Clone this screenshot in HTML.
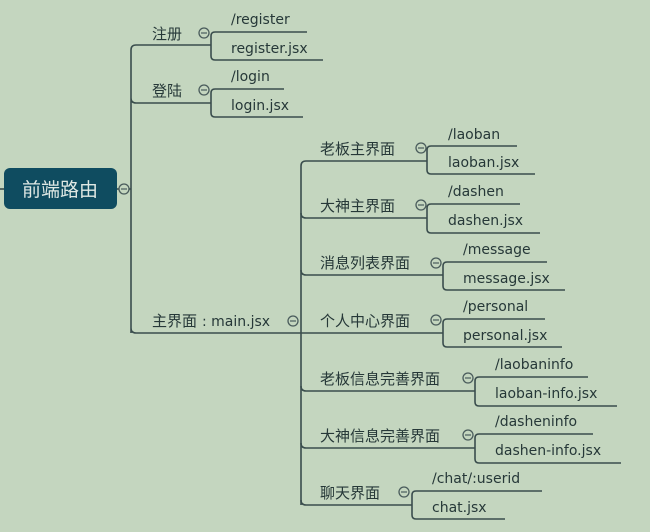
<!DOCTYPE html>
<html><head><meta charset="utf-8"><style>
html,body{margin:0;padding:0;background:#c4d6bf;}
svg{display:block}
text{font-family:"DejaVu Sans","Noto Sans CJK SC",sans-serif;fill:#263838;font-size:14px}
.z{font-family:"Noto Sans CJK SC",sans-serif;font-size:15px}
.c{fill:#c4d6bf;stroke:#4a5c5c;stroke-width:1.3}
.m{stroke:#4a5c5c;stroke-width:1.2}
.l{stroke:#3a4d4d;stroke-width:1.6;fill:none}
</style></head><body>
<svg width="650" height="532" viewBox="0 0 650 532">
<defs><g id="o"><circle class="c" r="5"/><line class="m" x1="-3" y1="0" x2="3" y2="0"/></g></defs>
<rect width="650" height="532" fill="#c4d6bf"/>
<line class="l" x1="0" y1="189" x2="4" y2="189"/>
<rect x="4" y="168" width="113" height="41" rx="6" fill="#0f4c60"/>
<text class="z" x="60" y="196" text-anchor="middle" style="fill:#dfe8e4;font-size:19px">前端路由</text>
<line class="l" x1="117" y1="189" x2="131" y2="189"/>
<use href="#o" x="124" y="189"/>
<path class="l" d="M131 333 V50 Q131 45 136 45 H211 M131 98 Q131 103 136 103 H211 M131 328 Q131 333 136 333 H301"/>
<text class="z" x="152" y="39">注册</text><use href="#o" x="204" y="33"/>
<path class="l" d="M307 32 H215 Q211 32 211 36 V56 Q211 60 215 60 H323"/>
<text x="231" y="24">/register</text><text x="231" y="53">register.jsx</text>
<text class="z" x="152" y="96">登陆</text><use href="#o" x="204" y="90"/>
<path class="l" d="M284 89 H215 Q211 89 211 93 V113 Q211 117 215 117 H303"/>
<text x="231" y="81">/login</text><text x="231" y="110">login.jsx</text>
<text class="z" x="152" y="326">主界面</text><text x="202" y="326">: main.jsx</text><use href="#o" x="293" y="321"/>
<path class="l" d="M301 505 V166 Q301 161 306 161 H427"/>
<path class="l" d="M301 213 Q301 218 306 218 H427 M301 270 Q301 275 306 275 H443 M301 333 H443 M301 386 Q301 391 306 391 H475 M301 443 Q301 448 306 448 H475 M301 500 Q301 505 306 505 H412"/>
<text class="z" x="320" y="154">老板主界面</text><use href="#o" x="421" y="148"/>
<path class="l" d="M517 146 H431 Q427 146 427 150 V170 Q427 174 431 174 H535"/>
<text x="448" y="139">/laoban</text><text x="448" y="167">laoban.jsx</text>
<text class="z" x="320" y="211">大神主界面</text><use href="#o" x="421" y="205"/>
<path class="l" d="M520 204 H431 Q427 204 427 208 V229 Q427 233 431 233 H540"/>
<text x="448" y="196">/dashen</text><text x="448" y="225">dashen.jsx</text>
<text class="z" x="320" y="268">消息列表界面</text><use href="#o" x="436" y="263"/>
<path class="l" d="M547 262 H447 Q443 262 443 266 V286 Q443 290 447 290 H565"/>
<text x="463" y="254">/message</text><text x="463" y="283">message.jsx</text>
<text class="z" x="320" y="326">个人中心界面</text><use href="#o" x="436" y="320"/>
<path class="l" d="M545 319 H447 Q443 319 443 323 V343 Q443 347 447 347 H562"/>
<text x="463" y="311">/personal</text><text x="463" y="340">personal.jsx</text>
<text class="z" x="320" y="384">老板信息完善界面</text><use href="#o" x="468" y="378"/>
<path class="l" d="M588 377 H479 Q475 377 475 381 V402 Q475 406 479 406 H617"/>
<text x="495" y="369">/laobaninfo</text><text x="495" y="398">laoban-info.jsx</text>
<text class="z" x="320" y="441">大神信息完善界面</text><use href="#o" x="468" y="435"/>
<path class="l" d="M593 434 H479 Q475 434 475 438 V459 Q475 463 479 463 H621"/>
<text x="495" y="426">/dasheninfo</text><text x="495" y="455">dashen-info.jsx</text>
<text class="z" x="320" y="498">聊天界面</text><use href="#o" x="404" y="492"/>
<path class="l" d="M542 491 H416 Q412 491 412 495 V515 Q412 519 416 519 H505"/>
<text x="432" y="483">/chat/:userid</text><text x="432" y="512">chat.jsx</text>
</svg>
</body></html>
